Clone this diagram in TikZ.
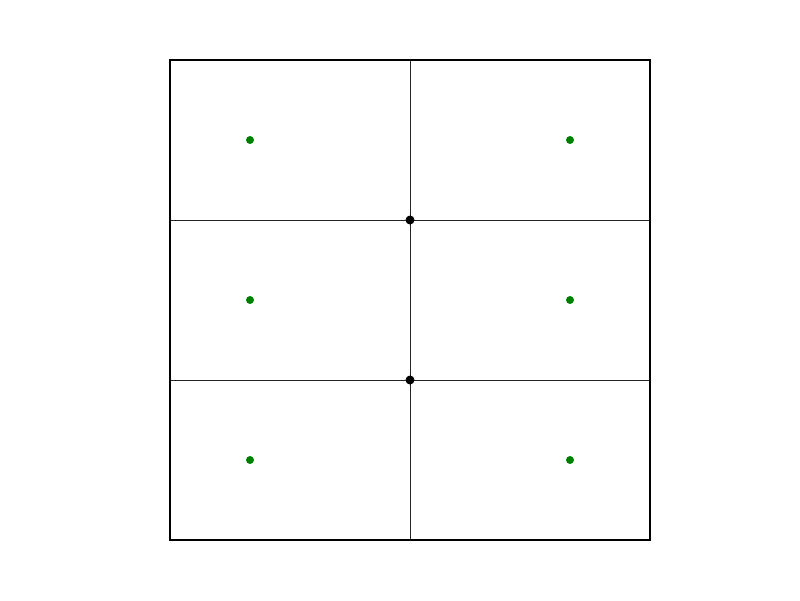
\documentclass[tikz,border=0pt]{standalone}
\usepackage{tikz}

\definecolor{dotgreen}{RGB}{0,128,0}

\begin{document}
\begin{tikzpicture}[x=0.025cm,y=-0.025cm]
	\useasboundingbox (0,0) rectangle (800,600);

	\node (tl) at (170,60) {};
	\node (br) at (650,540) {};
	\coordinate (top) at (410,60);
	\coordinate (bot) at (410,540);
	\coordinate (l1) at (170,220);
	\coordinate (r1) at (650,220);
	\coordinate (l2) at (170,380);
	\coordinate (r2) at (650,380);

	\draw[line width=0.35pt, color=black!85] (top)--(bot);
	\draw[line width=0.35pt, color=black!85] (l1)--(r1);
	\draw[line width=0.35pt, color=black!85] (l2)--(r2);
	\draw[line width=0.8pt] (170,60) rectangle (650,540);

	\node (a) at (250,140) {};
	\node (b) at (570,140) {};
	\node (c) at (250,300) {};
	\node (d) at (570,300) {};
	\node (e) at (250,460) {};
	\node (f) at (570,460) {};
	\node (m1) at (410,220) {};
	\node (m2) at (410,380) {};

	\fill[color=dotgreen] (a) circle (4);
	\fill[color=dotgreen] (b) circle (4);
	\fill[color=dotgreen] (c) circle (4);
	\fill[color=dotgreen] (d) circle (4);
	\fill[color=dotgreen] (e) circle (4);
	\fill[color=dotgreen] (f) circle (4);
	\fill (m1) circle (4.5);
	\fill (m2) circle (4.5);
\end{tikzpicture}
\end{document}
